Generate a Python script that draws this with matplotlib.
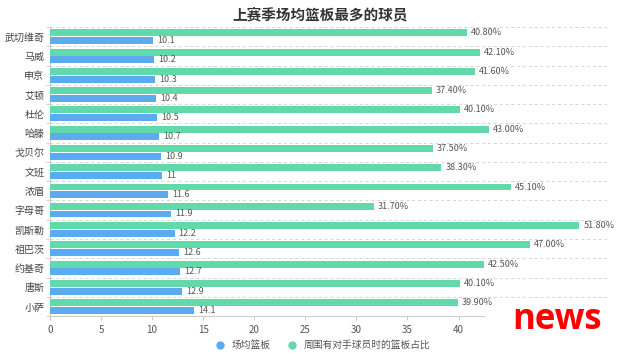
import matplotlib.pyplot as plt
import numpy as np
from matplotlib.lines import Line2D

plt.rcParams['font.family'] = ['Noto Sans CJK SC', 'DejaVu Sans']

players = ['武切维奇', '马威', '申京', '艾顿', '杜伦', '哈滕', '戈贝尔', '文班',
           '浓眉', '字母哥', '凯斯勒', '祖巴茨', '约基奇', '唐斯', '小萨']
rebounds = [10.1, 10.2, 10.3, 10.4, 10.5, 10.7, 10.9, 11, 11.6, 11.9, 12.2, 12.6, 12.7, 12.9, 14.1]
contested = [40.8, 42.1, 41.6, 37.4, 40.1, 43.0, 37.5, 38.3, 45.1, 31.7, 51.8, 47.0, 42.5, 40.1, 39.9]

blue = '#5aabf0'
green = '#62d9aa'

fig = plt.figure(figsize=(6.4, 3.56), dpi=100)
ax = fig.add_axes([0.078, 0.112, 0.870, 0.812])

y = np.arange(len(players))
h = 0.36
ax.barh(y - 0.2, contested, height=h, color=green, zorder=3)
ax.barh(y + 0.2, rebounds, height=h, color=blue, zorder=3)

for yi, v in zip(y, contested):
    ax.text(v + 0.4, yi - 0.2, f'{v:.2f}%', va='center', ha='left', fontsize=6.5, color='#555555')
for yi, v in zip(y, rebounds):
    ax.text(v + 0.4, yi + 0.2, f'{v:g}', va='center', ha='left', fontsize=6.5, color='#555555')

ax.set_ylim(len(players) - 0.5, -0.5)
ax.set_xlim(0, 54.5)
ax.set_yticks(y)
ax.set_yticklabels(players, fontsize=7.2, color='#444444')
ax.set_yticks(np.arange(-0.5, len(players), 1), minor=True)
ax.tick_params(axis='y', which='major', length=0, pad=4)
ax.tick_params(axis='y', which='minor', length=3, color='#cccccc')
ax.set_xticks([0, 5, 10, 15, 20, 25, 30, 35, 40])
ax.tick_params(axis='x', length=3, color='#cccccc', labelsize=7, labelcolor='#555555')

for b in np.arange(-0.5, len(players) - 1, 1):
    ax.axhline(b, color='#d5d5d5', lw=0.7, ls=(0, (3, 3)), zorder=1)

for s in ['top', 'right']:
    ax.spines[s].set_visible(False)
ax.spines['left'].set_color('#cccccc')
ax.spines['bottom'].set_color('#cccccc')
ax.spines['bottom'].set_bounds(0, 42.5)

fig.text(0.5, 0.96, '上赛季场均篮板最多的球员', ha='center', va='center',
         fontsize=10.5, fontweight='bold', color='#333333')

handles = [Line2D([], [], marker='o', ls='', color=blue, markersize=5),
           Line2D([], [], marker='o', ls='', color=green, markersize=5)]
fig.legend(handles, ['场均篮板', '周围有对手球员时的篮板占比'], loc='center',
           bbox_to_anchor=(0.5, 0.03), ncol=2, frameon=False, fontsize=7,
           handletextpad=0.2, columnspacing=1.2, labelcolor='#555555')

fig.text(0.870, 0.10, 'news', ha='center', va='center', fontsize=25,
         fontweight='bold', color='#ff0000', family=['Open Sans', 'DejaVu Sans'])

fig.savefig('out.png', dpi=100)
